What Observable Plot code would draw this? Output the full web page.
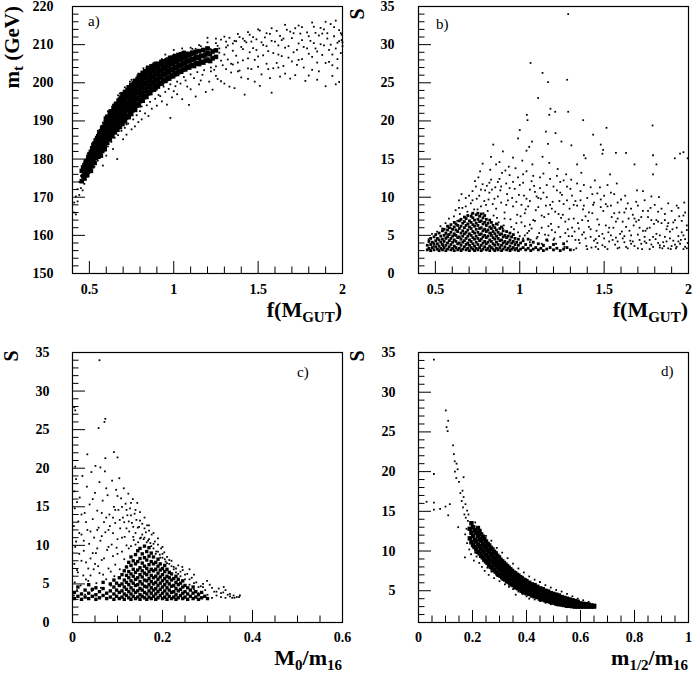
<!DOCTYPE html>
<html><head><meta charset="utf-8">
<script src="https://cdn.jsdelivr.net/npm/d3@7"></script>
<script src="https://cdn.jsdelivr.net/npm/@observablehq/plot@0.6"></script>
<style>
body{margin:0;background:#fff;}
#wrap{position:relative;width:692px;height:677px;overflow:hidden;}
.panel{position:absolute;width:346px;}
.panel svg{overflow:visible;}
#ov{position:absolute;left:0;top:0;pointer-events:none;}
</style></head><body>
<div id="wrap">
<div class="panel" id="pa" style="left:0;top:0"></div>
<div class="panel" id="pb" style="left:346px;top:0"></div>
<div class="panel" id="pc" style="left:0;top:330px"></div>
<div class="panel" id="pd" style="left:346px;top:330px"></div>
<svg id="ov" width="692" height="677" font-family="Liberation Serif, serif">
<text transform="translate(19,6) rotate(-90)" text-anchor="end" font-size="21" font-weight="bold">m<tspan dy="4" font-size="15">t</tspan><tspan dy="-4"> (GeV)</tspan></text>
<text transform="translate(364,14) rotate(-90)" text-anchor="middle" font-size="20" font-weight="bold">S</text>
<text transform="translate(18,356) rotate(-90)" text-anchor="middle" font-size="20" font-weight="bold">S</text>
<text transform="translate(364,356) rotate(-90)" text-anchor="middle" font-size="20" font-weight="bold">S</text>
<text x="342" y="317" text-anchor="end" font-size="22" font-weight="bold">f(M<tspan dy="5" font-size="15">GUT</tspan><tspan dy="-5">)</tspan></text>
<text x="688" y="317" text-anchor="end" font-size="22" font-weight="bold">f(M<tspan dy="5" font-size="15">GUT</tspan><tspan dy="-5">)</tspan></text>
<text x="342" y="665" text-anchor="end" font-size="22" font-weight="bold">M<tspan dy="5" font-size="15">0</tspan><tspan dy="-5">/m</tspan><tspan dy="5" font-size="15">16</tspan></text>
<text x="688" y="665" text-anchor="end" font-size="22" font-weight="bold">m<tspan dy="5" font-size="15">1/2</tspan><tspan dy="-5">/m</tspan><tspan dy="5" font-size="15">16</tspan></text>
<text x="88" y="26" font-size="15">a)</text>
<text x="436" y="29" font-size="15">b)</text>
<text x="297" y="377" font-size="15">c)</text>
<text x="661" y="376" font-size="15">d)</text>
</svg>
</div>
<script>
// ---------- Panel a: m_t vs f(M_GUT) ----------
const aXTicks = [0.5, 1, 1.5, 2];
const aYTicks = [150, 160, 170, 180, 190, 200, 210, 220];
const aCore = [
[0.455,[174.2,176.9]],[0.463,[175.5,177.8]],[0.471,[174.9,176.6,178.4]],[0.479,[176.1,177.9,179.3]],
[0.487,[175.8,177.3,179.6]],[0.494,[177.0,178.7,180.5]],[0.502,[177.6,179.4,181.3]],[0.509,[176.9,178.5,180.1,181.9]],
[0.517,[178.1,179.9,181.6,182.8]],[0.524,[179.4,181.0,182.5,183.7]],[0.531,[179.0,180.8,182.2,184.1]],[0.538,[180.3,181.9,183.6,184.9]],
[0.546,[181.1,182.7,184.0,185.5]],[0.553,[180.6,182.4,184.3,186.0]],[0.561,[181.8,183.5,185.1,186.7]],[0.568,[180.9,182.4,184.0,185.8,187.3]],
[0.576,[182.1,183.9,185.4,187.0,188.2]],[0.583,[183.3,185.0,186.6,188.4]],[0.591,[182.6,183.8,185.7,187.3,189.0]],[0.598,[184.6,186.1,187.9,189.6,190.6]],
[0.606,[184.3,186.4,188.2,189.9,191.1]],[0.613,[185.6,187.2,188.7,190.4]],[0.621,[185.2,187.0,189.1,190.8,192.0]],[0.628,[186.4,188.1,189.7,191.4,192.5]],
[0.636,[186.0,187.8,190.0,191.7]],[0.643,[187.3,189.0,190.6,192.3,193.4]],[0.651,[187.0,188.6,190.4,192.0,193.9]],[0.658,[188.1,189.8,191.5,193.1,194.5]],
[0.666,[187.7,189.5,191.1,192.8,194.2]],[0.673,[188.8,190.6,192.2,193.8,195.3]],[0.681,[188.4,190.3,191.9,193.6,195.6]],[0.688,[189.6,191.2,192.9,194.5,196.1]],
[0.696,[189.2,190.9,192.6,194.2,195.9,197.0]],[0.703,[190.3,192.0,193.6,195.3,196.8]],[0.711,[189.9,191.6,193.3,195.0,196.5,197.6]],[0.718,[190.9,192.7,194.3,196.0,197.5]],
[0.726,[191.3,193.1,194.8,196.4,198.1]],[0.733,[191.0,192.8,194.5,196.2,197.9,198.8]],[0.741,[192.1,193.9,195.5,197.2,198.6]],[0.748,[191.8,193.6,195.3,197.0,198.5,199.4]],
[0.756,[192.8,194.6,196.2,197.8,199.3]],[0.763,[193.3,195.0,196.7,198.4,199.9]],[0.771,[192.9,194.7,196.5,198.1,199.6,200.5]],[0.778,[194.0,195.7,197.4,199.0,200.4]],
[0.786,[194.4,196.1,197.8,199.5,201.0]],[0.793,[194.1,195.9,197.6,199.3,200.8,201.6]],[0.801,[195.2,196.8,198.5,200.2,201.7]],[0.808,[195.6,197.3,199.0,200.6,202.0]],
[0.816,[195.3,197.1,198.8,200.4,201.9,202.6]],[0.823,[196.2,197.9,199.6,201.2,202.5]],[0.831,[196.6,198.3,200.0,201.6,203.0]],[0.838,[196.3,198.1,199.8,201.4,202.8]],
[0.846,[197.2,198.9,200.5,202.2,203.5]],[0.853,[197.6,199.3,200.9,202.5,203.9]],[0.861,[197.3,199.1,200.7,202.3,203.7]],[0.868,[198.1,199.8,201.4,203.0,204.3]],
[0.876,[198.5,200.2,201.8,203.4]],[0.883,[198.2,199.9,201.6,203.2,204.5]],[0.891,[199.0,200.6,202.2,203.8]],[0.898,[199.3,200.9,202.6,204.2,205.0]],
[0.906,[199.0,200.7,202.4,204.0]],[0.913,[199.7,201.4,203.0,204.6]],[0.921,[200.0,201.7,203.3,204.9]],[0.928,[199.8,201.5,203.1,204.7,205.5]],
[0.936,[200.4,202.1,203.7,205.2]],[0.943,[200.7,202.4,204.0,205.6]],[0.951,[200.5,202.2,203.8,205.4]],[0.958,[201.0,202.7,204.3,205.9]],
[0.966,[201.3,203.0,204.6,206.1]],[0.973,[201.1,202.8,204.4,205.8]],[0.981,[201.6,203.3,204.9,206.4]],[0.988,[201.9,203.5,205.1,206.6]],
[0.996,[201.7,203.4,205.0,206.3]],[1.004,[202.2,203.8,205.4,206.8]],[1.012,[202.5,204.1,205.7,207.0]],[1.020,[202.3,204.0,205.5]],
[1.028,[202.8,204.4,206.0,207.3]],[1.036,[203.1,204.7,206.3]],[1.044,[202.9,204.6,206.1,207.5]],[1.052,[203.4,205.0,206.6]],
[1.060,[203.7,205.3,206.9,207.8]],[1.068,[203.5,205.1,206.7]],[1.076,[204.0,205.6,207.1]],[1.084,[204.2,205.8,207.4]],
[1.092,[204.0,205.7,207.2]],[1.100,[204.5,206.0,207.6]],[1.110,[204.7,206.3,207.9]],[1.120,[204.4,206.1,207.7]],
[1.130,[205.0,206.6,208.1]],[1.140,[205.2,206.8]],[1.150,[204.9,206.5,208.3]],[1.162,[205.5,207.1]],
[1.175,[205.3,207.0,208.6]],[1.188,[205.8,207.4]],[1.200,[206.1,207.8,209.0]],[1.215,[205.7,207.5]],
[1.230,[206.4,208.2]],[1.250,[206.8,208.5]]
];
const aScatter = [
[0.41,166.0],[0.41,168.6],[0.42,170.2],[0.42,165.5],[0.43,172.1],[0.43,168.9],[0.44,174.0],[0.44,170.6],[0.45,172.4],[0.45,175.6],
[0.46,171.8],[0.47,173.5],[0.47,179.2],[0.49,175.4],[0.5,176.3],[0.51,177.1],[0.51,183.2],[0.53,178.0],[0.53,184.6],[0.55,179.6],
[0.55,186.8],[0.57,181.0],[0.57,188.4],[0.58,178.3],[0.59,182.2],[0.6,180.9],[0.61,183.3],[0.62,192.8],[0.63,184.5],[0.64,182.6],
[0.65,185.6],[0.665,180.0],[0.67,186.3],[0.68,197.2],[0.69,187.4],[0.7,185.2],[0.71,188.2],[0.72,186.4],[0.73,189.3],[0.74,200.3],
[0.75,187.8],[0.76,190.4],[0.77,188.6],[0.78,191.5],[0.79,189.7],[0.8,192.6],[0.81,190.4],[0.82,203.8],[0.83,192.0],[0.84,194.1],
[0.85,191.3],[0.86,195.0],[0.87,193.2],[0.88,205.2],[0.89,195.8],[0.9,194.0],[0.91,196.8],[0.92,205.7],[0.93,195.1],[0.95,197.6],
[0.96,194.3],[0.97,198.4],[0.98,190.8],[0.99,196.2],[1.0,207.4],[1.01,199.1],[1.02,197.0],[1.04,199.8],[1.05,195.7],[1.06,208.2],
[1.07,200.6],[1.09,194.2],[1.1,198.3],[1.11,208.9],[1.12,201.2],[1.13,196.4],[1.15,199.6],[1.16,209.6],[1.17,202.1],[1.19,197.6],
[1.2,210.6],[1.21,200.3],[1.22,208.8],[1.23,198.2],[1.24,203.4],[1.25,210.4],[1.26,201.0],[1.27,207.9],[1.28,211.3],[1.29,204.6],
[1.3,199.8],[1.31,209.3],[1.32,206.1],[1.33,211.8],[1.34,202.7],[1.35,208.4],[1.36,198.6],[1.37,210.9],[1.38,205.3],[1.39,212.0],
[1.4,201.4],[1.41,208.8],[1.42,196.9],[1.43,210.6],[1.44,206.4],[1.45,212.6],[1.46,203.6],[1.47,209.1],[1.48,200.3],[1.49,211.4],
[1.5,206.9],[1.51,213.7],[1.52,202.2],[1.53,209.9],[1.54,211.9],[1.55,205.0],[1.56,208.3],[1.57,212.8],[1.58,197.4],[1.59,203.8],
[1.6,210.8],[1.61,213.6],[1.62,207.4],[1.63,201.6],[1.64,211.2],[1.65,204.4],[1.66,209.2],[1.67,213.9],[1.68,206.6],[1.69,201.1],
[1.7,211.7],[1.71,208.0],[1.72,214.3],[1.73,204.7],[1.74,210.3],[1.75,212.9],[1.76,206.2],[1.77,209.4],[1.78,200.5],[1.79,213.2],
[1.8,207.6],[1.81,211.0],[1.82,203.4],[1.83,214.7],[1.84,209.0],[1.85,205.3],[1.86,212.4],[1.87,210.1],[1.88,207.3],[1.89,214.0],
[1.9,199.1],[1.91,211.6],[1.92,208.6],[1.93,215.4],[1.94,204.6],[1.95,212.2],[1.96,199.6],[1.97,210.5],[1.98,213.8],[1.99,207.8],
[1.995,211.2],[1.97,206.2],[1.92,205.5],[1.88,212.9],[1.84,213.1],[1.76,214.6],[1.69,213.4],[1.63,212.3],[1.55,213.0],[1.47,212.0],
[1.41,211.6],[1.36,211.0],[1.31,210.8],[1.26,209.7],[1.21,209.1],[1.17,208.4],[1.13,208.9],[1.08,208.0],[1.03,207.6],[0.97,206.9],
[0.93,206.2],[0.89,205.0],[0.84,204.3],[0.79,202.4],[0.75,200.8],[0.71,198.8],[0.67,196.7],[0.64,194.3],[0.61,192.6],[0.58,189.6],
[0.55,187.4],[0.52,184.1],[0.49,181.4],
[1.21,205.6],[1.22,203.0],[1.24,206.7],[1.25,204.3],[1.27,209.0],[1.28,205.8],[1.3,207.4],[1.31,203.6],[1.32,209.8],[1.34,205.0],
[1.35,210.3],[1.37,207.1],[1.38,203.0],[1.4,209.4],[1.41,205.9],[1.42,211.0],[1.44,203.8],[1.45,208.0],[1.46,210.8],[1.48,206.0],
[1.49,208.6],[1.5,204.2],[1.52,210.6],[1.53,207.2],[1.55,209.6],[1.56,203.6],[1.58,211.0],[1.59,207.8],[1.61,205.2],[1.62,209.8],
[1.64,207.0],[1.65,211.6],[1.66,202.4],[1.68,209.6],[1.7,205.6],[1.71,213.0],[1.73,208.6],[1.74,206.0],[1.76,211.2],[1.77,204.0],
[1.79,209.0],[1.8,212.2],[1.82,206.8],[1.83,210.4],[1.85,208.2],[1.86,203.0],[1.87,214.4],[1.89,209.8],[1.9,205.2],[1.91,213.0],
[1.93,210.0],[1.94,207.4],[1.95,214.6],[1.96,209.0],[1.97,203.8],[1.98,210.9],[1.99,213.0],[2.0,209.6],[2.0,210.6],[1.995,212.6],
[1.28,200.4],[1.33,199.0],[1.39,203.2],[1.44,201.0],[1.51,199.2],[1.57,201.2],[1.62,204.0],[1.72,202.0],[1.8,201.9],[1.85,200.8],
[1.94,201.8],[1.98,200.2],
[0.62,186.0],[0.66,188.0],[0.7,190.0],[0.73,191.7],[0.77,193.3],[0.8,195.0],[0.83,196.2],[0.86,197.3],[0.9,198.2],[0.94,199.0],
[0.98,199.6],[1.02,200.3],[1.06,201.5],[1.1,202.2],[1.14,202.8],[1.18,203.3],[1.22,204.0],[0.72,189.1],[0.81,193.8],[0.92,196.5],
[1.0,197.8],[1.08,199.0],[1.16,200.6],[1.25,201.8],[1.35,204.8],
[1.1,209.2],[1.15,209.9],[1.0,208.6],[1.05,209.0],[0.95,207.4],[1.2,211.8],[1.25,211.6],[1.3,212.1],[1.38,212.8],[1.44,213.3],
[1.5,214.0],[1.58,214.3],[1.66,215.2],[1.74,215.0],[1.82,215.8],[1.9,216.0],[1.96,216.3]
];

// ---------- Panel b: S vs f(M_GUT) ----------
const bXTicks = [0.5, 1, 1.5, 2];
const bYTicks = [0, 5, 10, 15, 20, 25, 30, 35];
const bCore = [
[0.452,[3.1,3.7]],[0.462,[3.3,4.2]],[0.472,[3.0,3.8,4.6]],[0.482,[3.4,4.1]],[0.492,[3.1,3.9,4.8]],
[0.502,[3.5,4.3,5.1]],[0.512,[3.2,3.9,4.6]],[0.522,[3.0,3.6,4.4,5.3]],[0.532,[3.3,4.1,4.9]],[0.542,[3.1,3.8,4.5,5.6]],
[0.552,[3.4,4.2,5.0,5.8]],[0.562,[3.0,3.7,4.6,5.3]],[0.572,[3.2,4.0,4.8,5.7,6.2]],[0.582,[3.5,4.3,5.1,6.0]],[0.592,[3.1,3.8,4.6,5.4,6.4]],
[0.602,[3.3,4.1,4.9,5.8]],[0.612,[3.0,3.6,4.4,5.2,6.1,6.7]],[0.622,[3.4,4.2,5.0,5.7,6.5]],[0.632,[3.1,3.9,4.7,5.5,6.3]],[0.642,[3.3,4.0,4.8,5.9,6.9]],
[0.652,[3.0,3.7,4.5,5.3,6.2,7.1]],[0.662,[3.2,4.1,4.9,5.6,6.6]],[0.672,[3.5,4.3,5.2,6.0,6.8,7.4]],[0.682,[3.1,3.8,4.6,5.4,6.3,7.2]],[0.692,[3.3,4.0,4.9,5.7,6.5,7.6]],
[0.702,[3.0,3.7,4.4,5.2,6.1,6.9]],[0.712,[3.4,4.2,5.0,5.9,6.7,7.5]],[0.722,[3.2,3.9,4.7,5.5,6.4,7.3,7.9]],[0.732,[3.0,3.6,4.5,5.3,6.2,7.0]],[0.742,[3.3,4.1,4.9,5.8,6.6,7.7]],
[0.752,[3.1,3.8,4.6,5.4,6.3,7.1,7.9]],[0.762,[3.4,4.3,5.1,5.9,6.8,7.5]],[0.772,[3.0,3.7,4.5,5.2,6.0,6.9,7.8]],[0.782,[3.2,4.0,4.8,5.6,6.5,7.3]],[0.792,[3.5,4.2,5.0,5.8,6.7,7.6]],
[0.802,[3.1,3.9,4.7,5.5,6.3,7.1]],[0.812,[3.3,4.1,4.9,5.7,6.6]],[0.822,[3.0,3.6,4.4,5.3,6.1,7.0]],[0.832,[3.4,4.2,5.0,5.9,6.7]],[0.842,[3.2,3.9,4.7,5.5,6.3]],
[0.852,[3.0,3.7,4.5,5.2,6.0]],[0.862,[3.3,4.1,4.9,5.7,6.5]],[0.872,[3.1,3.8,4.6,5.4]],[0.882,[3.4,4.3,5.1,5.9]],[0.892,[3.0,3.7,4.4,5.2,6.1]],
[0.902,[3.2,4.0,4.8,5.6]],[0.912,[3.5,4.2,5.0]],[0.922,[3.1,3.9,4.7,5.5]],[0.932,[3.3,4.1,4.9]],[0.942,[3.0,3.6,4.4,5.3]],
[0.952,[3.2,4.0,4.8]],[0.962,[3.4,4.2,5.1]],[0.972,[3.1,3.8,4.6]],[0.982,[3.3,4.1]],[0.992,[3.0,3.7,4.5]],
[1.005,[3.2,4.0]],[1.02,[3.4,4.3]],[1.035,[3.1,3.8]],[1.05,[3.3,4.5]],[1.065,[3.0,3.7]],[1.08,[3.2,4.1]],[1.095,[3.4]],
[1.11,[3.1,3.9]],[1.125,[3.3]],[1.14,[3.0,3.7]],[1.16,[3.2,4.4]],[1.18,[3.4]],[1.20,[3.1,3.8]],[1.22,[3.3]],[1.24,[3.0]],
[1.26,[3.2,3.9]],[1.28,[3.4]],[1.30,[3.1]]
];
const bScatter = [
[0.46,4.5],[0.48,5.2],[0.49,3.6],[0.47,3.1],[0.51,5.5],[0.53,6.2],[0.52,4.4],[0.54,5.9],[0.545,3.6],
[0.56,6.6],[0.57,5.1],[0.58,7.2],[0.59,6.0],[0.585,4.3],[0.61,7.5],[0.62,8.3],[0.63,6.9],[0.64,9.6],[0.615,5.0],[0.645,7.8],
[0.66,8.6],[0.67,7.4],[0.68,9.9],[0.69,8.1],[0.655,10.4],[0.695,6.5],[0.71,9.2],[0.72,10.8],[0.73,8.4],[0.74,11.4],[0.715,7.8],[0.745,9.8],[0.735,12.1],
[0.76,10.2],[0.77,8.8],[0.78,11.7],[0.79,9.5],[0.755,12.6],[0.785,7.9],[0.765,13.4],[0.795,10.9],[0.78,14.4],
[0.81,8.2],[0.82,10.6],[0.83,12.3],[0.84,9.1],[0.805,11.5],[0.825,13.6],[0.845,7.6],[0.835,11.0],[0.815,9.7],[0.83,15.3],[0.843,16.9],
[0.86,8.5],[0.87,10.1],[0.88,12.4],[0.89,9.3],[0.855,11.3],[0.875,6.7],[0.895,13.2],[0.865,7.3],[0.885,10.9],[0.88,14.6],[0.86,14.3],
[0.91,8.0],[0.92,11.8],[0.93,9.6],[0.94,12.9],[0.905,6.3],[0.925,10.4],[0.945,7.1],[0.935,14.0],[0.915,13.5],[0.9,5.9],[0.9,16.0],
[0.96,8.8],[0.97,11.1],[0.98,6.6],[0.99,12.6],[0.955,9.9],[0.975,13.8],[0.985,7.7],[0.965,5.8],[0.995,10.3],[0.96,15.2],[0.99,17.7],[1.0,18.8],
[1.01,9.0],[1.02,11.9],[1.03,6.2],[1.04,13.4],[1.005,7.5],[1.025,10.2],[1.045,5.3],[1.035,8.4],[1.015,14.8],[1.02,4.6],[1.04,16.1],[1.042,20.8],[1.046,20.1],
[1.06,9.5],[1.07,12.1],[1.08,7.0],[1.09,10.7],[1.055,5.6],[1.075,14.3],[1.095,8.3],[1.065,4.4],[1.085,11.5],[1.06,6.4],[1.064,27.6],[1.073,17.3],[1.056,16.6],
[1.11,8.7],[1.12,11.2],[1.13,6.0],[1.14,13.1],[1.105,4.8],[1.125,9.8],[1.145,7.4],[1.135,15.3],[1.115,5.3],[1.14,3.6],[1.109,23.0],[1.135,26.3],
[1.16,10.0],[1.17,7.8],[1.18,12.4],[1.19,5.7],[1.155,8.9],[1.175,14.5],[1.195,9.4],[1.165,4.3],[1.185,6.5],[1.168,25.1],[1.182,21.6],[1.175,20.8],[1.155,18.6],[1.168,17.0],
[1.21,8.1],[1.22,10.9],[1.23,6.1],[1.24,12.0],[1.205,4.6],[1.225,13.7],[1.245,7.3],[1.235,9.5],[1.215,3.9],[1.21,21.2],[1.212,18.4],[1.247,17.3],
[1.26,9.1],[1.27,6.8],[1.28,11.4],[1.29,4.9],[1.255,7.7],[1.275,13.0],[1.295,8.5],[1.265,3.5],[1.285,5.8],[1.287,34.0],[1.281,25.4],[1.287,21.2],
[1.31,10.2],[1.32,7.2],[1.33,4.4],[1.34,8.9],[1.305,12.3],[1.325,5.5],[1.345,6.6],[1.335,3.3],[1.306,16.8],[1.34,14.3],
[1.36,9.6],[1.37,5.1],[1.38,11.6],[1.39,7.5],[1.355,4.0],[1.375,8.4],[1.395,3.6],[1.365,13.2],[1.376,20.1],[1.38,15.5],[1.39,15.1],
[1.41,8.0],[1.42,5.8],[1.43,10.4],[1.44,4.3],[1.405,6.9],[1.425,3.4],[1.445,12.2],[1.435,9.0],[1.435,18.2],
[1.46,7.1],[1.47,4.9],[1.48,9.7],[1.49,3.7],[1.455,5.6],[1.475,11.3],[1.495,8.2],[1.465,3.2],[1.48,16.9],[1.494,16.2],[1.49,15.7],
[1.51,6.3],[1.52,8.8],[1.53,4.2],[1.54,10.6],[1.505,3.5],[1.525,5.4],[1.545,7.4],[1.535,13.0],[1.514,19.1],
[1.56,7.9],[1.57,4.7],[1.58,9.3],[1.59,3.4],[1.555,6.0],[1.575,11.8],[1.595,5.2],[1.565,3.8],[1.57,15.8],
[1.61,6.8],[1.62,4.1],[1.63,8.5],[1.64,3.3],[1.605,5.5],[1.625,10.2],[1.645,7.2],[1.63,15.8],
[1.66,5.0],[1.67,7.7],[1.68,3.6],[1.69,9.4],[1.655,4.3],[1.675,6.3],[1.695,10.9],[1.68,14.3],
[1.71,6.0],[1.72,3.9],[1.73,8.2],[1.74,4.8],[1.705,7.0],[1.725,3.2],[1.745,5.6],[1.73,10.8],
[1.76,7.4],[1.77,4.4],[1.78,10.1],[1.79,3.5],[1.755,5.9],[1.775,8.6],[1.795,6.5],[1.787,19.4],[1.79,15.5],[1.79,13.0],[1.81,14.3],
[1.81,5.2],[1.82,8.1],[1.83,3.7],[1.84,6.6],[1.805,4.5],[1.825,10.0],[1.845,3.3],[1.86,7.0],[1.87,4.2],[1.88,9.2],[1.89,5.5],[1.855,3.6],[1.875,6.2],[1.895,3.2],
[1.91,6.7],[1.92,3.8],[1.93,8.9],[1.94,4.9],[1.905,5.8],[1.925,3.3],[1.945,7.5],[1.919,15.1],[1.95,15.7],
[1.96,5.4],[1.97,7.6],[1.98,3.5],[1.99,6.3],[1.955,4.4],[1.975,9.3],[1.995,4.0],[1.97,15.9],[1.995,15.1],
[1.32,3.1],[1.4,3.2],[1.45,3.5],[1.52,3.2],[1.58,3.3],[1.63,3.5],[1.7,3.3],[1.77,3.2],[1.83,3.4],[1.88,3.3],[1.93,3.5],[1.97,3.2],[1.99,3.3],
[0.83,5.3],[0.87,6.4],[0.91,7.2],[0.95,6.1],[0.99,5.4],[1.01,6.7],[1.03,7.9],[1.05,8.8],[1.07,5.9],[1.09,6.9],[1.11,9.9],[1.13,7.6],[1.15,5.1],
[1.17,6.2],[1.19,8.5],[1.21,5.4],[1.23,7.8],[1.25,10.3],[1.27,5.3],[1.29,7.1],[1.31,6.0],[1.33,9.5],[1.35,5.9],[1.37,7.0],[1.39,4.6],[1.41,6.1],
[1.43,7.9],[1.45,4.5],[1.47,6.4],[1.49,5.2],[1.51,9.1],[1.53,6.0],[1.55,4.4],[1.57,6.8],[1.59,8.0],[1.61,4.6],[1.63,6.1],[1.65,5.6],[1.67,4.2],
[1.69,6.8],[1.71,4.4],[1.73,5.6],[1.75,4.0],[1.77,6.0],[1.79,4.8],[1.81,7.0],[1.83,5.0],[1.85,4.1],[1.87,5.8],[1.89,4.6],[1.91,4.3],[1.93,6.0],
[1.95,3.9],[1.97,5.0],[1.99,5.7],
[0.6,5.8],[0.64,8.6],[0.68,8.8],[0.7,10.2],[0.72,9.6],[0.75,8.4],[0.77,11.0],[0.8,9.0],[0.82,11.9],[0.85,9.8],[0.87,12.0],[0.89,11.4],[0.92,9.0],
[0.94,11.2],[0.96,12.0],[0.98,9.4],[1.0,11.6],[1.02,13.0],[1.04,9.8],[1.06,11.0],[1.08,12.8],[1.1,10.1],[1.12,12.6],[1.14,10.6],[1.16,11.6],
[1.18,9.0],[1.2,11.4],[1.22,12.8],[1.24,10.6],[1.26,12.2],[1.28,9.6],[1.3,11.1],[1.32,9.0],[1.34,11.8],[1.36,10.8],[1.38,8.9],[1.4,9.9],
[1.42,11.3],[1.44,9.3],[1.46,10.5],[1.48,8.7],[1.5,10.2],[1.52,11.6],[1.54,8.9],[1.56,10.4],[1.58,7.2],[1.6,9.7],[1.62,8.0],[1.64,9.2],
[1.66,8.5],[1.68,7.2],[1.7,8.9],[1.72,7.4],[1.74,9.6],[1.76,8.2],[1.78,7.0],[1.8,9.0],[1.82,6.8],[1.84,8.5],[1.86,7.8],[1.88,6.6],[1.9,8.2],
[1.92,7.0],[1.94,8.6],[1.96,6.9],[1.98,8.0],
[1.0,4.9],[1.03,5.0],[1.06,4.1],[1.1,4.6],[1.13,3.9],[1.17,5.0],[1.2,4.4],[1.24,4.8],[1.28,4.2],[1.31,4.9],[1.35,4.4],[1.38,5.4],[1.42,4.8],
[1.46,4.0],[1.5,4.6],[1.54,5.0],[1.58,4.2],[1.62,4.9],[1.66,3.9],[1.7,5.1],[1.74,4.2],[1.78,3.8],[1.82,4.0],[1.86,4.8],[1.9,3.6],[1.94,4.2],[1.98,4.5]
];

// ---------- Panel c: S vs M0/m16 ----------
const cXTicks = [0, 0.2, 0.4, 0.6];
const cYTicks = [0, 5, 10, 15, 20, 25, 30, 35];
const cCore = [
[0.004,[3.1,3.9]],[0.012,[3.4,4.6]],[0.02,[3.0,3.7]],[0.028,[3.3,4.2]],[0.036,[3.1,3.8,4.9]],[0.044,[3.4,4.3]],
[0.052,[3.0,3.6,4.5]],[0.06,[3.2,4.0]],[0.068,[3.5,4.4,5.2]],[0.076,[3.1,3.8]],[0.084,[3.3,4.1,5.0]],[0.092,[3.0,3.7,4.6,5.5]],
[0.098,[3.4,4.2,5.1]],[0.104,[3.1,3.9,4.8,5.8]],[0.11,[3.3,4.1,5.0,6.2]],[0.115,[3.0,3.7,4.6,5.5,6.7]],[0.12,[3.5,4.3,5.2,6.1,7.2]],
[0.125,[3.2,4.0,4.9,5.8,6.6,7.8]],[0.13,[3.0,3.7,4.5,5.4,6.3,7.4,8.5]],[0.135,[3.4,4.2,5.1,6.0,6.9,8.0]],[0.14,[3.1,3.9,4.8,5.6,6.5,7.6,8.8]],
[0.145,[3.3,4.1,4.9,5.8,6.8,7.9,9.3]],[0.15,[3.0,3.6,4.4,5.3,6.2,7.1,8.3,9.6]],[0.155,[3.4,4.2,5.0,5.9,6.7,7.7,8.9]],
[0.16,[3.2,3.9,4.7,5.5,6.4,7.3,8.4,9.9]],[0.165,[3.0,3.7,4.6,5.4,6.2,7.0,8.1,9.2]],[0.17,[3.3,4.1,4.9,5.7,6.6,7.5,8.6,9.7]],
[0.175,[3.1,3.8,4.5,5.3,6.1,6.9,7.9,9.0]],[0.18,[3.4,4.2,5.0,5.8,6.7,7.6,8.5]],[0.185,[3.0,3.7,4.4,5.2,6.0,6.9,7.8]],
[0.19,[3.2,4.0,4.8,5.6,6.4,7.3,8.2]],[0.195,[3.5,4.3,5.1,5.9,6.8,7.6]],[0.2,[3.1,3.8,4.6,5.4,6.2,7.0]],
[0.205,[3.3,4.1,4.9,5.7,6.6,7.4]],[0.21,[3.0,3.7,4.5,5.3,6.0,6.9]],[0.215,[3.4,4.2,5.0,5.8,6.5]],[0.22,[3.1,3.9,4.7,5.5,6.3]],
[0.225,[3.3,4.0,4.8,5.7]],[0.23,[3.0,3.6,4.4,5.2,6.0]],[0.235,[3.2,4.1,4.9,5.6]],[0.24,[3.5,4.3,5.1]],[0.245,[3.1,3.8,4.6,5.4]],
[0.25,[3.3,4.0,4.8]],[0.256,[3.0,3.7,4.5]],[0.262,[3.4,4.2]],[0.268,[3.1,3.8,4.6]],[0.274,[3.3,4.0]],[0.28,[3.0,3.6]],
[0.287,[3.2,3.9]],[0.294,[3.4]],[0.30,[3.1]]
];
const cScatter = [
[0.004,27.9],[0.006,27.5],[0.06,34.0],[0.073,26.4],[0.071,26.0],[0.058,25.2],[0.092,22.1],[0.1,21.4],[0.073,21.3],[0.033,21.8],[0.051,20.3],[0.062,20.1],
[0.003,3.5],[0.005,5.2],[0.004,7.6],[0.006,9.8],[0.003,12.5],[0.005,14.8],[0.004,17.0],[0.006,20.2],[0.008,10.5],[0.01,4.2],[0.012,6.5],[0.013,13.1],
[0.015,8.9],[0.016,16.2],[0.018,4.8],[0.02,11.4],[0.022,19.0],[0.024,6.1],[0.025,9.3],[0.027,14.2],[0.028,3.6],[0.03,7.8],[0.032,17.6],[0.033,12.0],
[0.035,5.4],[0.037,10.2],[0.038,15.3],[0.04,8.3],[0.042,19.5],[0.043,4.1],[0.045,13.4],[0.047,6.9],[0.048,11.0],[0.05,16.8],[0.052,9.0],[0.053,5.1],
[0.055,14.5],[0.057,7.3],[0.058,12.3],[0.06,18.2],[0.062,10.6],[0.063,4.5],[0.065,8.1],[0.067,15.8],[0.068,6.2],[0.07,13.0],[0.072,19.6],[0.073,11.7],
[0.075,5.6],[0.077,9.4],[0.078,16.5],[0.08,7.0],[0.082,14.0],[0.083,12.5],[0.085,4.8],[0.087,10.1],[0.088,18.4],[0.09,8.6],[0.092,15.0],[0.093,6.0],
[0.095,12.9],[0.097,17.2],[0.098,9.7],
[0.1,10.8],[0.102,14.6],[0.104,18.7],[0.106,12.2],[0.108,16.1],[0.11,9.2],[0.112,13.6],[0.114,17.4],[0.116,11.1],[0.118,15.4],[0.12,10.0],[0.122,13.9],
[0.124,16.7],[0.126,11.8],[0.128,14.8],[0.13,9.9],[0.132,12.9],[0.134,16.0],[0.136,10.7],[0.138,14.1],[0.14,11.6],[0.142,13.3],[0.144,15.5],[0.146,10.4],
[0.148,12.4],[0.15,14.3],[0.152,11.0],[0.155,12.8],[0.158,10.8],[0.16,13.6],[0.163,11.7],[0.166,12.6],[0.168,10.6],[0.17,11.9],[0.173,10.3],[0.176,11.4],
[0.18,9.6],[0.183,10.5],[0.186,9.2],[0.19,10.1],[0.194,8.8],[0.197,9.6],[0.2,8.4],[0.204,9.1],[0.207,7.9],[0.21,8.5],
[0.215,7.6],[0.22,8.0],[0.225,7.2],[0.23,6.5],[0.235,7.4],[0.244,7.2],[0.24,6.0],[0.245,6.8],[0.25,5.6],[0.255,6.3],[0.26,4.9],[0.265,5.8],[0.27,4.3],
[0.275,5.2],[0.28,3.8],[0.285,4.7],[0.29,3.3],[0.295,4.2],[0.299,5.4],[0.3,3.6],[0.305,4.9],[0.31,3.2],[0.315,4.0],[0.32,3.5],[0.325,4.4],[0.33,3.3],
[0.336,4.6],[0.335,3.9],[0.34,3.2],[0.345,3.6],[0.35,3.4],[0.355,3.2],[0.358,3.5],[0.365,3.3],[0.372,3.5],[0.27,6.2],[0.26,6.9],[0.29,4.6],
[0.05,7.6],[0.055,9.6],[0.06,6.4],[0.065,11.2],[0.07,8.3],[0.075,13.6],[0.08,9.8],[0.085,6.6],[0.09,11.6],[0.095,7.5],[0.1,8.9],[0.105,6.9],
[0.11,11.0],[0.115,8.2],[0.12,12.2],[0.125,9.6],[0.13,13.9],[0.135,11.1],[0.14,10.1],[0.145,12.3],[0.15,10.9],[0.155,11.4],[0.16,11.0],[0.165,10.4],
[0.17,10.8],[0.175,9.9],[0.18,10.2],[0.185,8.9],[0.19,9.2],[0.195,8.4],[0.2,8.9],[0.205,8.2],[0.21,7.7],[0.215,8.1],[0.22,7.3],[0.225,6.9],
[0.23,7.0],[0.235,6.3],[0.24,6.6],[0.25,6.2],[0.26,5.6],[0.27,5.1],[0.28,4.6],[0.29,5.0],[0.31,4.5],[0.32,4.0],[0.33,3.8],[0.34,4.2],[0.35,3.7],
[0.36,3.2],[0.37,3.3],
[0.03,5.6],[0.035,7.0],[0.04,6.1],[0.045,9.0],[0.025,10.6],[0.02,8.0],[0.015,11.6],[0.01,6.8],[0.01,15.6],[0.008,18.6],[0.02,14.0],[0.03,13.0],
[0.04,11.8],[0.045,16.0],[0.055,12.0],[0.065,14.2],[0.075,17.4],[0.08,12.0],[0.09,13.6],[0.095,14.6],[0.1,16.4],[0.105,13.3],[0.11,15.0],[0.115,13.0],
[0.12,14.6],[0.125,13.1],[0.13,15.5],[0.135,12.4],[0.14,14.6],[0.15,13.2],[0.16,12.2],[0.17,12.6],[0.18,11.6],[0.19,10.9],[0.2,9.8]
];

// ---------- Panel d: S vs m1/2/m16 ----------
const dXTicks = [0, 0.2, 0.4, 0.6, 0.8, 1];
const dYTicks = [5, 10, 15, 20, 25, 30, 35];
const dCore = [
[0.19,[11.6,12.8]],[0.196,[11.1,12.3,13.5]],[0.202,[10.8,11.9,13.0]],[0.208,[10.5,11.4,12.6]],[0.214,[10.2,11.2,12.3]],
[0.22,[9.9,10.8,11.9,12.9]],[0.226,[9.7,10.6,11.5,12.4]],[0.232,[9.4,10.3,11.3,12.1]],[0.238,[9.2,10.0,10.9,11.8]],[0.244,[8.9,9.8,10.6,11.5]],
[0.25,[8.7,9.5,10.4,11.2]],[0.256,[8.5,9.3,10.1,10.9]],[0.262,[8.2,9.0,9.9,10.7]],[0.268,[8.0,8.8,9.6,10.4]],[0.274,[7.8,8.6,9.4,10.2]],
[0.28,[7.6,8.4,9.1,9.9]],[0.286,[7.4,8.2,8.9,9.7]],[0.292,[7.2,8.0,8.7,9.4]],[0.298,[7.0,7.8,8.5,9.2]],[0.304,[6.9,7.6,8.3,8.9]],
[0.31,[6.7,7.4,8.1,8.7]],[0.316,[6.5,7.2,7.9,8.5]],[0.322,[6.4,7.0,7.7,8.3]],[0.328,[6.2,6.9,7.5,8.1]],[0.334,[6.1,6.7,7.3,7.9]],
[0.34,[5.9,6.5,7.1,7.7]],[0.346,[5.8,6.4,7.0,7.5]],[0.352,[5.7,6.3,6.8,7.3]],[0.358,[5.5,6.1,6.7,7.2]],[0.364,[5.4,6.0,6.5,7.0]],
[0.37,[5.3,5.8,6.4,6.9]],[0.376,[5.2,5.7,6.2,6.7]],[0.382,[5.0,5.6,6.1,6.6]],[0.388,[4.9,5.5,6.0,6.4]],[0.394,[4.8,5.3,5.9,6.3]],
[0.40,[4.7,5.2,5.7,6.2]],[0.41,[4.6,5.1,5.6,6.0]],[0.42,[4.4,4.9,5.4,5.8]],[0.43,[4.3,4.8,5.2,5.7]],[0.44,[4.2,4.6,5.1,5.5]],
[0.45,[4.0,4.5,5.0,5.3]],[0.46,[3.9,4.4,4.8,5.2]],[0.47,[3.8,4.2,4.7,5.0]],[0.48,[3.7,4.1,4.5,4.9]],[0.49,[3.6,4.0,4.4,4.7]],
[0.50,[3.5,3.9,4.3,4.6]],[0.51,[3.4,3.8,4.2,4.5]],[0.52,[3.3,3.7,4.1,4.4]],[0.53,[3.3,3.6,4.0,4.2]],[0.54,[3.2,3.5,3.9,4.1]],
[0.55,[3.1,3.4,3.8,4.0]],[0.56,[3.1,3.4,3.7,3.9]],[0.57,[3.05,3.3,3.6,3.8]],[0.58,[3.0,3.3,3.5,3.7]],[0.59,[3.0,3.2,3.4,3.6]],
[0.60,[3.0,3.2,3.4]],[0.61,[3.0,3.15,3.35]],[0.62,[3.0,3.15,3.3]],[0.63,[3.0,3.1,3.25]],[0.64,[3.0,3.15]],[0.65,[3.0,3.1]]
];
const dScatter = [
[0.057,34.1],[0.101,27.7],[0.11,26.4],[0.104,25.6],[0.108,25.1],[0.128,23.3],[0.131,22.2],[0.134,21.3],[0.141,21.0],[0.135,20.0],[0.145,20.3],
[0.057,19.7],[0.03,16.2],[0.057,16.1],[0.057,15.2],[0.116,15.9],[0.1,15.6],[0.11,14.5],[0.08,15.3],[0.147,13.0],[0.172,9.2],[0.167,19.3],
[0.163,17.6],[0.167,16.8],[0.174,15.9],[0.18,15.1],[0.14,19.2],[0.15,18.7],[0.155,17.3],[0.16,16.3],[0.165,15.5],[0.17,14.6],[0.175,14.2],
[0.183,13.8],[0.178,12.8],[0.185,14.6],[0.173,12.1],[0.18,11.0],[0.188,10.2],[0.195,9.6],[0.205,8.8],[0.215,9.3],[0.2,10.5],[0.21,9.8],
[0.225,8.5],[0.235,8.0],[0.245,7.5],[0.255,7.9],[0.26,7.0],[0.27,7.4],[0.28,6.6],[0.29,6.9],[0.3,6.2],[0.31,6.5],[0.32,5.8],[0.335,5.5],
[0.35,5.2],[0.36,4.5],[0.37,4.9],[0.385,4.6],[0.4,4.3],[0.41,4.0],[0.43,3.9],[0.45,3.7],[0.47,3.5],[0.49,3.3],[0.51,3.2],[0.53,3.1],[0.55,3.05],
[0.21,13.6],[0.23,12.7],[0.25,11.9],[0.27,11.3],[0.29,10.4],[0.31,9.8],[0.33,9.1],[0.35,8.4],[0.37,7.8],[0.39,7.3],[0.41,6.8],[0.43,6.4],
[0.45,6.1],[0.47,5.7],[0.49,5.4],[0.51,5.1],[0.53,4.9],[0.55,4.6],[0.57,4.3],[0.59,4.0],[0.61,3.8],[0.63,3.6],[0.655,3.2]
];

// ---------- rendering ----------
const flat = cols => cols.flatMap(([x, ys]) => ys.map(y => [x, y]));
function minorTicks(lo, hi, step, majors) {
  const n = Math.round((hi - lo) / step);
  return d3.range(n + 1).map(i => lo + i * step)
    .filter(v => !majors.some(m => Math.abs(m - v) < step / 10));
}
const FONT = "Liberation Serif, serif";
function panel(o) {
  const W = 346, ml = 72, mr = 4;
  const innerW = W - ml - mr, innerH = o.height - o.mt - o.mb;
  const [x0, x1] = o.xDomain, [y0, y1] = o.yDomain;
  const yLen = px => y0 + px * (y1 - y0) / innerH;
  const xLen = px => x0 + px * (x1 - x0) / innerW;
  const dotOpts = {x: d => d[0], y: d => d[1], symbol: "square", fill: "black"};
  const txt = {fontSize: 14, fontWeight: "bold", fontFamily: FONT, fill: "black"};
  return Plot.plot({
    width: W, height: o.height,
    marginLeft: ml, marginRight: mr, marginTop: o.mt, marginBottom: o.mb,
    x: {domain: o.xDomain}, y: {domain: o.yDomain},
    style: {fontFamily: FONT, fontSize: "14px", fontWeight: "bold", background: "transparent", overflow: "visible", color: "black"},
    marks: [
      Plot.dot(o.scatter, {...dotOpts, r: 1.0}),
      Plot.dot(flat(o.core), {...dotOpts, r: o.coreR}),
      Plot.ruleX(o.xMajor, {y1: y0, y2: yLen(12), stroke: "black"}),
      Plot.ruleX(o.xMinor, {y1: y0, y2: yLen(6.5), stroke: "black"}),
      Plot.ruleY(o.yMajor, {x1: x0, x2: xLen(13), stroke: "black"}),
      Plot.ruleY(o.yMinor, {x1: x0, x2: xLen(6.5), stroke: "black"}),
      Plot.frame({stroke: "black", strokeWidth: 1.2}),
      Plot.axisX(o.xMajor, {tickSize: 0, tickPadding: o.xPad, tickFormat: d => String(d), label: null, ...txt}),
      Plot.axisY(o.yMajor, {tickSize: 0, tickPadding: o.yPad, tickFormat: d => String(d), label: null, ...txt})
    ]
  });
}
const topCfg = {height: 330, mt: 6, mb: 57, xPad: 11};
const botCfg = {height: 347, mt: 22, mb: 55, xPad: 9.5};

document.getElementById("pa").append(panel({...topCfg, yPad: 19, coreR: 2.6,
  xDomain: [0.4, 2], yDomain: [150, 220], xMajor: aXTicks, yMajor: aYTicks,
  xMinor: minorTicks(0.5, 2, 0.1, aXTicks), yMinor: minorTicks(150, 220, 2, aYTicks),
  core: aCore, scatter: aScatter}));
document.getElementById("pb").append(panel({...topCfg, yPad: 24, coreR: 1.6,
  xDomain: [0.4, 2], yDomain: [0, 35], xMajor: bXTicks, yMajor: bYTicks,
  xMinor: minorTicks(0.5, 2, 0.1, bXTicks), yMinor: minorTicks(0, 35, 1, bYTicks),
  core: bCore, scatter: bScatter}));
document.getElementById("pc").append(panel({...botCfg, yPad: 23, coreR: 1.9,
  xDomain: [0, 0.6], yDomain: [0, 35], xMajor: cXTicks, yMajor: cYTicks,
  xMinor: minorTicks(0, 0.6, 0.05, cXTicks), yMinor: minorTicks(0, 35, 1, cYTicks),
  core: cCore, scatter: cScatter}));
document.getElementById("pd").append(panel({...botCfg, yPad: 23, coreR: 2.5,
  xDomain: [0, 1], yDomain: [1, 35], xMajor: dXTicks, yMajor: dYTicks,
  xMinor: minorTicks(0, 1, 0.05, dXTicks), yMinor: minorTicks(2, 35, 1, dYTicks),
  core: dCore, scatter: dScatter}));
</script>
</body></html>
